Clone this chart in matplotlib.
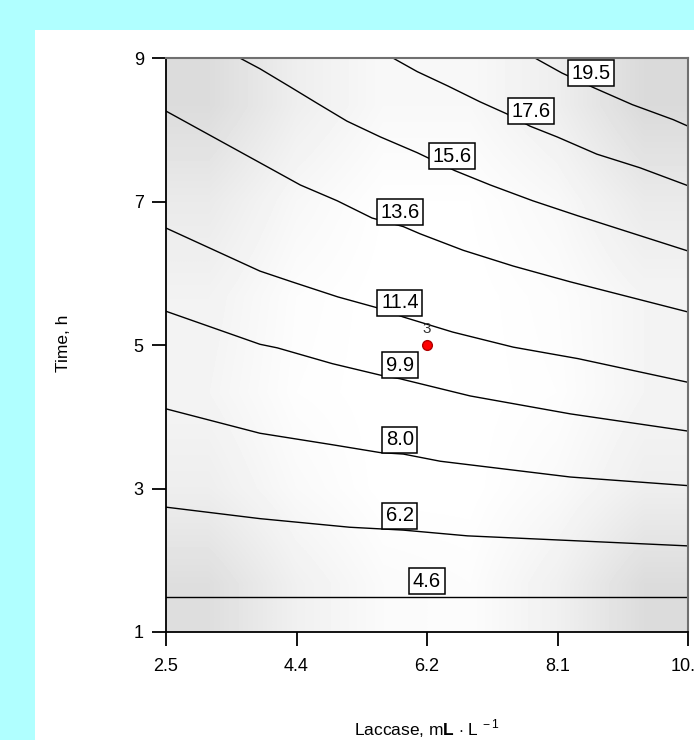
import numpy as np
import matplotlib.pyplot as plt
from matplotlib.patches import Rectangle

plt.rcParams['font.family'] = 'Liberation Sans'
plt.rcParams['mathtext.fontset'] = 'custom'
plt.rcParams['mathtext.rm'] = 'Liberation Sans'
plt.rcParams['mathtext.bf'] = 'Liberation Sans:bold'

# contour lines (laccase mL/L, time h)
c46_x = [2.5, 10.0]
c46_y = [1.49, 1.49]
c62_x = [2.5, 3.85, 5.14, 5.91, 6.83, 8.42, 10.0]
c62_y = [2.74, 2.58, 2.46, 2.42, 2.34, 2.27, 2.20]
c80_x = [2.5, 3.85, 4.89, 5.58, 5.91, 6.44, 8.31, 10.0]
c80_y = [4.11, 3.77, 3.61, 3.50, 3.48, 3.38, 3.16, 3.04]
c99_x = [2.5, 3.85, 4.10, 4.89, 5.58, 5.86, 6.87, 8.31, 10.0]
c99_y = [5.47, 5.01, 4.96, 4.74, 4.58, 4.53, 4.29, 4.04, 3.80]
c114_x = [2.5, 3.85, 4.31, 4.97, 5.53, 5.91, 6.62, 7.49, 8.42, 10.0]
c114_y = [6.63, 6.03, 5.88, 5.67, 5.52, 5.39, 5.18, 4.97, 4.81, 4.48]
c136_x = [2.5, 3.85, 4.43, 4.96, 5.46, 5.91, 6.15, 6.77, 7.49, 8.31, 10.0]
c136_y = [8.26, 7.54, 7.23, 7.01, 6.77, 6.65, 6.55, 6.32, 6.10, 5.88, 5.46]
c156_x = [3.56, 3.85, 4.28, 4.67, 5.10, 5.58, 6.11, 6.65, 7.16, 7.77, 8.42, 10.0]
c156_y = [9.0, 8.85, 8.60, 8.37, 8.12, 7.90, 7.68, 7.43, 7.23, 7.01, 6.80, 6.31]
c176_x = [5.76, 6.11, 6.55, 7.01, 7.40, 7.73, 8.12, 8.69, 9.31, 10.0]
c176_y = [9.0, 8.81, 8.61, 8.39, 8.22, 8.05, 7.90, 7.66, 7.47, 7.22]
c195_x = [7.80, 8.19, 8.66, 9.20, 9.79, 10.0]
c195_y = [9.0, 8.79, 8.58, 8.35, 8.14, 8.05]

lab_text = ['4.6', '6.2', '8.0', '9.9', '11.4', '13.6', '15.6', '17.6', '19.5']
lab_x = [6.25, 5.86, 5.86, 5.86, 5.86, 5.86, 6.61, 7.74, 8.61]
lab_y = [1.71, 2.62, 3.68, 4.72, 5.59, 6.85, 7.63, 8.26, 8.79]

# design point
pt_x = [6.25]
pt_y = [5.0]
pt_label = '3'

x_ticks = [2.5, 4.375, 6.25, 8.125, 10.0]
x_ticklabels = ['2.5', '4.4', '6.2', '8.1', '10.0']
y_ticks = [1, 3, 5, 7, 9]
y_ticklabels = ['1', '3', '5', '7', '9']

# background grey shading (0-255), top row first
shade = np.array([
    [220, 238, 248, 248, 238, 218],
    [234, 247, 254, 254, 248, 234],
    [242, 252, 255, 255, 252, 244],
    [244, 253, 255, 255, 253, 244],
    [238, 249, 255, 255, 249, 238],
    [222, 240, 250, 252, 240, 220],
])

fig = plt.figure(figsize=(6.94, 7.40), dpi=100, facecolor='#b0ffff')
fig.patches.append(Rectangle((35 / 694, 0), 1, 1 - 30 / 740, transform=fig.transFigure,
                             facecolor='white', edgecolor='none', zorder=-10))
ax = fig.add_axes([166 / 694, 108 / 740, 522 / 694, 574 / 740])

ax.imshow(shade / 255, cmap='gray', vmin=0, vmax=1, extent=[2.5, 10, 1, 9],
          aspect='auto', interpolation='bilinear', zorder=0)

for cx, cy in [(c46_x, c46_y), (c62_x, c62_y), (c80_x, c80_y), (c99_x, c99_y),
               (c114_x, c114_y), (c136_x, c136_y), (c156_x, c156_y),
               (c176_x, c176_y), (c195_x, c195_y)]:
    ax.plot(cx, cy, color='black', lw=1, zorder=2)

for t, lx, ly in zip(lab_text, lab_x, lab_y):
    ax.text(lx, ly, t, ha='center', va='center', fontsize=14.5, zorder=3,
            bbox=dict(boxstyle='square,pad=0.18', fc='white', ec='black', lw=1.1))

ax.plot(pt_x, pt_y, 'o', color='red', mec='#b00000', ms=7, zorder=4)
ax.text(pt_x[0], pt_y[0] + 0.12, pt_label, ha='center', va='bottom', fontsize=11,
        color='#303030', zorder=4)

ax.set_xlim(2.5, 10)
ax.set_ylim(1, 9)
ax.set_xticks(x_ticks, x_ticklabels)
ax.set_yticks(y_ticks, y_ticklabels)
ax.tick_params(direction='out', length=10, width=1.3, labelsize=13)
ax.tick_params(axis='x', pad=9)
ax.tick_params(axis='y', pad=6)
for s in ['left', 'bottom']:
    ax.spines[s].set_color('black')
    ax.spines[s].set_linewidth(1.3)
for s in ['top', 'right']:
    ax.spines[s].set_color('#707070')
    ax.spines[s].set_linewidth(1.5)

fig.text(427 / 694, 1 - 729 / 740, r'Laccase, m$\mathbf{L}$ $\cdot$ L$^{\,-1}$',
         ha='center', va='center', fontsize=12.5)
fig.text(63 / 694, 1 - 343 / 740, 'Time, h', rotation=90, ha='center', va='center',
         fontsize=12.5)

fig.savefig('out.png', dpi=100, facecolor=fig.get_facecolor())
